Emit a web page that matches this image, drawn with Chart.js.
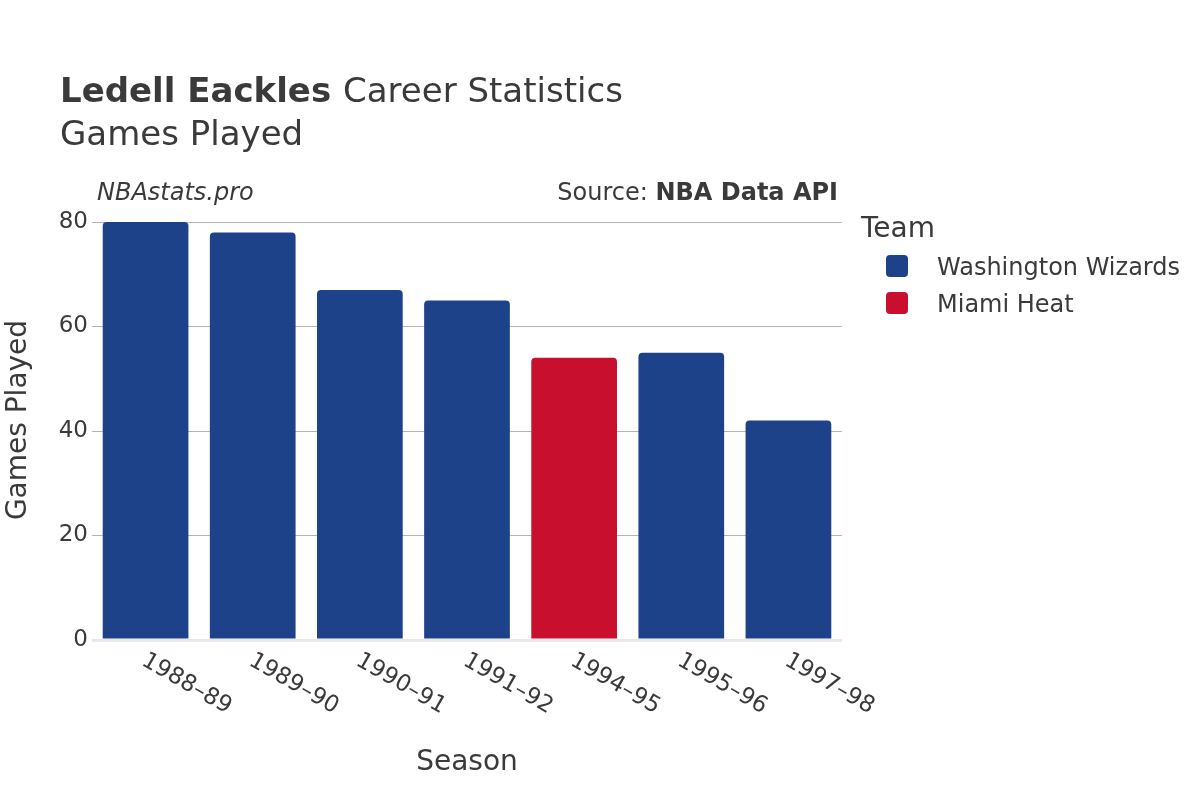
<!DOCTYPE html>
<html>
<head>
<meta charset="utf-8">
<script src="https://cdn.jsdelivr.net/npm/chart.js@4/dist/chart.umd.min.js"></script>
<style>
  html, body { margin: 0; padding: 0; background: #fff; }
  #wrap { width: 1200px; height: 800px; }
</style>
</head>
<body>
<div id="wrap"><canvas id="chart" width="1200" height="800"></canvas></div>
<script>
const seasons = ["1988–89", "1989–90", "1990–91", "1991–92", "1994–95", "1995–96", "1997–98"];
const wizardsGames = [80, 78, 67, 65, null, 55, 42];
const heatGames = [null, null, null, null, 54, null, null];
const teamNames = ["Washington Wizards", "Miami Heat"];
const teamColors = ["#1d428a", "#c8102e"];

const FONT = "'DejaVu Sans', sans-serif";
const TEXT = "#3a3a3a";

// titles, notes, axis titles, rotated season labels and legend
const overlay = {
    id: "overlay",
    afterDraw(chart) {
        const ctx = chart.ctx;
        const area = chart.chartArea;
        ctx.save();
        ctx.fillStyle = TEXT;
        ctx.textBaseline = "alphabetic";

        // title
        ctx.textAlign = "left";
        ctx.font = "bold 34px " + FONT;
        ctx.fillText("Ledell Eackles", 60, 102);
        let w = ctx.measureText("Ledell Eackles ").width;
        ctx.font = "34px " + FONT;
        ctx.fillText("Career Statistics", 60 + w, 102);
        ctx.fillText("Games Played", 60, 145);

        // notes
        ctx.font = "italic 24px " + FONT;
        ctx.fillText("NBAstats.pro", 97, 200);
        ctx.textAlign = "right";
        ctx.font = "bold 24px " + FONT;
        ctx.fillText("NBA Data API", 838, 200);
        let bw = ctx.measureText("NBA Data API").width;
        ctx.font = "24px " + FONT;
        ctx.fillText("Source: ", 838 - bw, 200);

        // axis titles
        ctx.textAlign = "center";
        ctx.font = "28px " + FONT;
        ctx.fillText("Season", (area.left + area.right) / 2, 770);
        ctx.save();
        ctx.translate(26, 420);
        ctx.rotate(-Math.PI / 2);
        ctx.fillText("Games Played", 0, 0);
        ctx.restore();

        // season labels, rotated 30 degrees
        const xScale = chart.scales.x;
        ctx.font = "23px " + FONT;
        ctx.textAlign = "left";
        ctx.textBaseline = "middle";
        seasons.forEach((s, i) => {
            const x = xScale.getPixelForValue(i);
            ctx.save();
            ctx.translate(x - 2, area.bottom + 19);
            ctx.rotate(Math.PI / 6);
            ctx.fillText(s, 0, 0);
            ctx.restore();
        });

        // legend
        ctx.textBaseline = "alphabetic";
        ctx.font = "28px " + FONT;
        ctx.fillText("Team", 861, 237);
        ctx.font = "24px " + FONT;
        teamNames.forEach((name, i) => {
            const cy = 266 + i * 37;
            ctx.fillStyle = teamColors[i];
            ctx.beginPath();
            ctx.roundRect(886, cy - 11, 22, 22, 4);
            ctx.fill();
            ctx.fillStyle = TEXT;
            ctx.fillText(name, 937, cy + 9);
        });
        ctx.restore();
    }
};

new Chart(document.getElementById("chart"), {
    type: "bar",
    data: {
        labels: seasons,
        datasets: [
            {
                label: teamNames[0],
                data: wizardsGames,
                backgroundColor: teamColors[0],
                borderRadius: 4,
                borderSkipped: "start",
            },
            {
                label: teamNames[1],
                data: heatGames,
                backgroundColor: teamColors[1],
                borderRadius: 4,
                borderSkipped: "start",
            },
        ],
    },
    options: {
        responsive: false,
        animation: false,
        devicePixelRatio: 1,
        barPercentage: 0.8,
        categoryPercentage: 1,
        layout: { padding: { top: 222, right: 358, left: 0, bottom: 0 } },
        plugins: {
            legend: { display: false },
            tooltip: { enabled: false },
        },
        scales: {
            x: {
                stacked: true,
                grid: { display: false },
                border: { display: false },
                ticks: { display: false },
                afterFit: (s) => { s.height = 160; },
            },
            y: {
                min: 0,
                max: 80,
                ticks: {
                    stepSize: 20,
                    padding: 4,
                    color: TEXT,
                    font: { family: FONT, size: 23 },
                },
                grid: {
                    drawTicks: false,
                    color: (c) => c.tick.value === 0 ? "#e8e8e8" : "#b4b4b4",
                    lineWidth: (c) => c.tick.value === 0 ? 3 : 1,
                },
                border: { display: false },
                afterFit: (s) => { s.width = 92; },
            },
        },
    },
    plugins: [overlay],
});
</script>
</body>
</html>
